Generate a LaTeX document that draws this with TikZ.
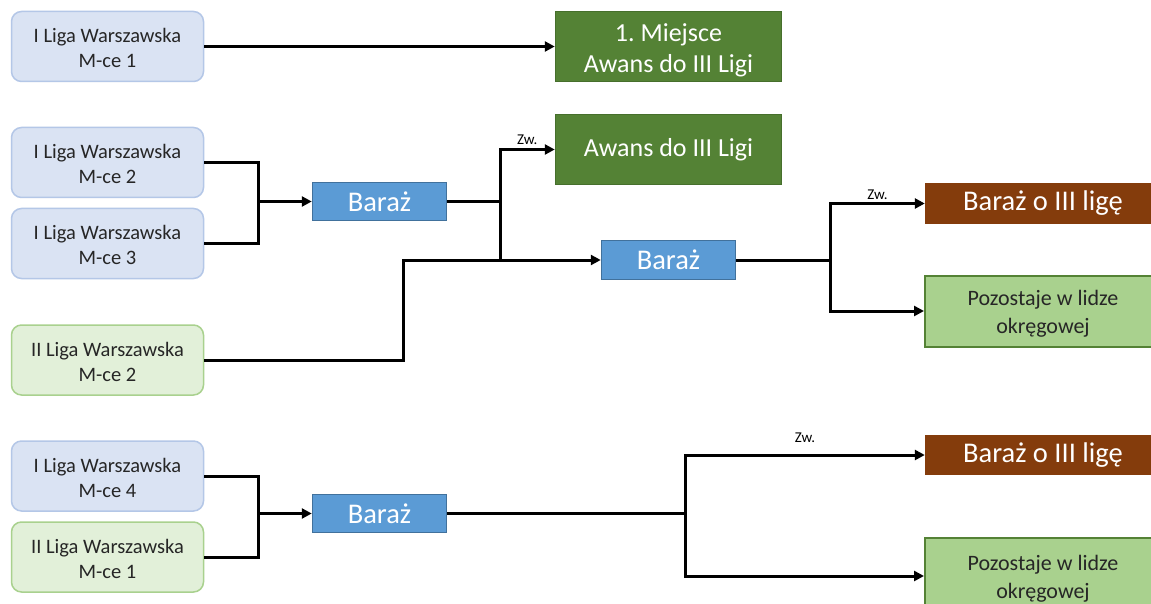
\documentclass[tikz,border=0pt]{standalone}
\usepackage{fontspec}
\setmainfont{Carlito}
\usetikzlibrary{arrows.meta}
\definecolor{lbfill}{HTML}{DAE3F3}
\definecolor{lbdraw}{HTML}{B4C7E7}
\definecolor{lgfill}{HTML}{E2F0D9}
\definecolor{lgdraw}{HTML}{A9D18E}
\definecolor{dgfill}{HTML}{548235}
\definecolor{dgdraw}{HTML}{466F2C}
\definecolor{bfill}{HTML}{5B9BD5}
\definecolor{bdraw}{HTML}{41719C}
\definecolor{brfill}{HTML}{843C0C}
\definecolor{pfill}{HTML}{A9D18E}
\definecolor{pdraw}{HTML}{548235}
\definecolor{txt}{HTML}{262626}
\newcommand{\myupstrut}[1]{\rule{0pt}{#1}}
\frenchspacing
\tikzset{
  srcbase/.style={line width=1.5pt, rounded corners=10pt, minimum width=192pt, minimum height=70pt, align=center, inner sep=0pt, text=txt, font=\fontsize{20.5}{25}\selectfont},
  srcone/.style={srcbase, draw=lbdraw, fill=lbfill},
  srctwo/.style={srcbase, draw=lgdraw, fill=lgfill},
  awans/.style={draw=dgdraw, fill=dgfill, line width=1.5pt, minimum width=226pt, minimum height=70pt, align=center, inner sep=0pt, text=white, font=\fontsize{26}{31}\selectfont},
  barbox/.style={draw=bdraw, fill=bfill, line width=1.5pt, minimum width=134pt, minimum height=38pt, inner sep=0pt, text=white, font=\fontsize{28.5}{32}\selectfont},
  brownbox/.style={fill=brfill, minimum width=236pt, minimum height=41pt, inner sep=0pt, text=white, font=\fontsize{28.5}{32}\selectfont},
  stays/.style={draw=pdraw, fill=pfill, line width=2pt, minimum width=236pt, minimum height=71pt, align=center, inner sep=0pt, text=txt, font=\fontsize{22}{28}\selectfont},
  ln/.style={line width=3pt, black, line join=miter},
  arr/.style={ln, -{Triangle[length=10pt,width=10pt]}},
  zw/.style={font=\fontsize{15}{17}\selectfont, text=black, inner sep=0pt, anchor=center}
}
\begin{document}
\begin{tikzpicture}[x=1pt,y=-1pt]
\useasboundingbox (0,0) rectangle (1151,604);
\clip (0,0) rectangle (1151,604);
\fill[white] (0,0) rectangle (1151,604);

% left sources
\node[srcone] (L1) at (107.5,46.5) {\myupstrut{18pt}I Liga Warszawska\\M-ce 1};
\node[srcone] (L2) at (107.5,162.5) {\myupstrut{18pt}I Liga Warszawska\\M-ce 2};
\node[srcone] (L3) at (107.5,243.5) {\myupstrut{18pt}I Liga Warszawska\\M-ce 3};
\node[srctwo] (L4) at (107.5,360) {\myupstrut{18pt}II Liga Warszawska\\M-ce 2};
\node[srcone] (L5) at (107.5,476) {\myupstrut{18pt}I Liga Warszawska\\M-ce 4};
\node[srctwo] (L6) at (107.5,557) {\myupstrut{18pt}II Liga Warszawska\\M-ce 1};

% green promotion boxes
\node[awans] (G1) at (668.5,46.5) {\myupstrut{25pt}1.\ Miejsce\\Awans do III Ligi};
\node[awans] (G2) at (668.5,149.5) {Awans do III Ligi};

% playoff boxes
\node[barbox] (B1) at (379.5,201.5) {Baraż};
\node[barbox, minimum height=39pt] (B2) at (668.5,260) {Baraż};
\node[barbox] (B3) at (379.5,513.5) {Baraż};

% right outcomes
\node[brownbox] (R1) at (1043,203.5) {Baraż o III ligę};
\node[stays] (P1) at (1043,311) {\myupstrut{20pt}Pozostaje w lidze\\okręgowej};
\node[brownbox, minimum height=40pt] (R2) at (1043,455) {Baraż o III ligę};
\node[stays, minimum height=76pt] (P2) at (1043,576) {\myupstrut{20pt}Pozostaje w lidze\\okręgowej};

% connectors
\draw[arr] (L1.east) -- (G1.west);

\coordinate (j1) at (258,201.5);
\draw[ln] (L2.east) -| (j1) |- (L3.east);
\draw[arr] (j1) -- (B1.west);

\coordinate (s1) at (500,201.5);
\draw[ln] (B1.east) -- (s1);
\draw[arr] (s1) |- node[zw, pos=0.75, yshift=9.5pt] {Zw.} (G2.west);
\draw[arr] (s1) |- (B2.west);

\coordinate (m1) at (403,260);
\draw[ln] (L4.east) -| (m1) -- (s1 |- B2.west);

\coordinate (s2) at (830,260);
\draw[ln] (B2.east) -- (s2);
\draw[arr] (s2) |- node[zw, pos=0.75, yshift=8.5pt] {Zw.} (R1.west);
\draw[arr] (s2) |- (P1.west);

\coordinate (j2) at (258,513.5);
\draw[ln] (L5.east) -| (j2) |- (L6.east);
\draw[arr] (j2) -- (B3.west);

\coordinate (s3) at (685,513.5);
\draw[ln] (B3.east) -- (s3);
\draw[arr] (s3) |- node[zw, pos=0.75, yshift=17.5pt] {Zw.} (R2.west);
\draw[arr] (s3) |- (P2.west);
\end{tikzpicture}
\end{document}
